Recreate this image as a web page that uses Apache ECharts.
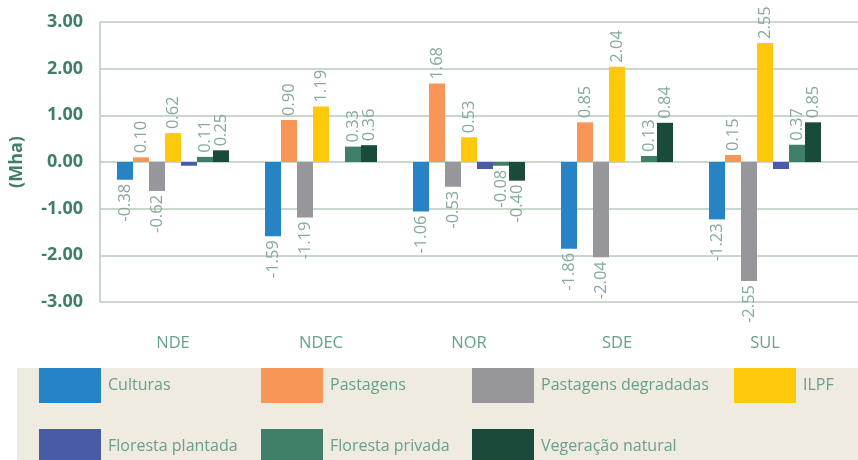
<!DOCTYPE html>
<html>
<head>
<meta charset="utf-8">
<script src="https://cdn.jsdelivr.net/npm/echarts@6/dist/echarts.min.js"></script>
<style>
  html, body { margin: 0; padding: 0; background: #ffffff; }
  #chart { width: 858px; height: 460px; }
</style>
</head>
<body>
<div id="chart"></div>
<script>
// Regions and land-use change values (Mha)
const regions = ['NDE', 'NDEC', 'NOR', 'SDE', 'SUL'];
const yTicks = [-3, -2, -1, 0, 1, 2, 3];

const culturas = [-0.38, -1.59, -1.06, -1.86, -1.23];
const pastagens = [0.10, 0.90, 1.68, 0.85, 0.15];
const pastagensDegradadas = [-0.62, -1.19, -0.53, -2.04, -2.55];
const ilpf = [0.62, 1.19, 0.53, 2.04, 2.55];
const florestaPlantada = [-0.08, 0, -0.15, 0, -0.15];
const florestaPrivada = [0.11, 0.33, -0.08, 0.13, 0.37];
const vegetacaoNatural = [0.25, 0.36, -0.40, 0.84, 0.85];

const seriesDefs = [
  { name: 'Culturas', data: culturas, color: '#2683c6', labels: true },
  { name: 'Pastagens', data: pastagens, color: '#f79656', labels: true },
  { name: 'Pastagens degradadas', data: pastagensDegradadas, color: '#96969b', labels: true },
  { name: 'ILPF', data: ilpf, color: '#fec90b', labels: true },
  { name: 'Floresta plantada', data: florestaPlantada, color: '#4a5ba6', labels: false },
  { name: 'Floresta privada', data: florestaPrivada, color: '#3f7f68', labels: true },
  { name: 'Vegeração natural', data: vegetacaoNatural, color: '#1a4a3a', labels: true }
];

const FONT = '"Open Sans", Lato, sans-serif';
const labelColor = '#86ab9c';
const axisTextColor = '#68a08a';
const gridColor = '#b8cabd';

const chart = echarts.init(document.getElementById('chart'), null, { renderer: 'canvas' });

const series = seriesDefs.map(s => ({
  name: s.name,
  type: 'bar',
  xAxisIndex: 0,
  yAxisIndex: 0,
  barWidth: 16,
  barGap: '0%',
  itemStyle: { color: s.color },
  data: s.data.map(v => ({
    value: v,
    label: {
      show: s.labels,
      position: v < 0 ? 'bottom' : 'top',
      align: v < 0 ? 'right' : 'left',
      verticalAlign: 'middle',
      rotate: 90,
      distance: 4,
      color: labelColor,
      fontFamily: FONT,
      fontSize: 16.5,
      formatter: p => p.value.toFixed(2)
    }
  }))
}));

// Legend laid out as two rows of fixed columns
const legendPos = [
  [39, 368], [261, 368], [472, 368], [734, 368],
  [39, 429], [261, 429], [472, 429]
];
const legends = seriesDefs.map((s, i) => ({
  data: [s.name],
  left: legendPos[i][0],
  top: legendPos[i][1],
  padding: 0,
  itemWidth: 62,
  itemHeight: 35,
  icon: 'rect',
  selectedMode: false,
  textStyle: { color: axisTextColor, fontFamily: FONT, fontSize: 16, padding: [0, 0, 0, 2] }
}));

chart.setOption({
  animation: false,
  backgroundColor: '#ffffff',
  graphic: [{
    type: 'rect',
    left: 17, top: 368,
    shape: { width: 841, height: 92 },
    style: { fill: '#efebe1' },
    z: -10
  }],
  legend: legends,
  grid: [
    { left: 97, right: 19, top: 22, height: 280 },
    { left: 100, right: 0, top: 22, height: 280 }
  ],
  xAxis: [
    {
      type: 'category',
      gridIndex: 0,
      data: regions,
      position: 'bottom',
      axisLine: { show: false, onZero: false },
      axisTick: { show: false },
      axisLabel: { color: axisTextColor, fontFamily: FONT, fontSize: 16.5, margin: 33 }
    },
    { type: 'value', gridIndex: 1, show: false, min: 0, max: 1 }
  ],
  yAxis: [
    {
      type: 'value',
      gridIndex: 0,
      min: yTicks[0],
      max: yTicks[yTicks.length - 1],
      interval: 1,
      splitLine: { show: false },
      axisLine: { show: false },
      axisTick: { show: false },
      axisLabel: {
        color: '#3f7f68', fontFamily: FONT, fontSize: 18, fontWeight: 'bold', margin: 16,
        formatter: v => v.toFixed(2)
      },
      name: '(Mha)',
      nameLocation: 'middle',
      nameRotate: 90,
      nameGap: 73,
      nameTextStyle: { color: '#3f7f68', fontFamily: FONT, fontSize: 18, fontWeight: 'bold' }
    },
    {
      type: 'value',
      gridIndex: 1,
      min: yTicks[0],
      max: yTicks[yTicks.length - 1],
      interval: 1,
      axisLabel: { show: false },
      axisTick: { show: false },
      axisLine: { show: true, lineStyle: { color: gridColor, width: 1.5 } },
      splitLine: { show: true, lineStyle: { color: gridColor, width: 1.5 } }
    }
  ],
  series: series
});
</script>
</body>
</html>
